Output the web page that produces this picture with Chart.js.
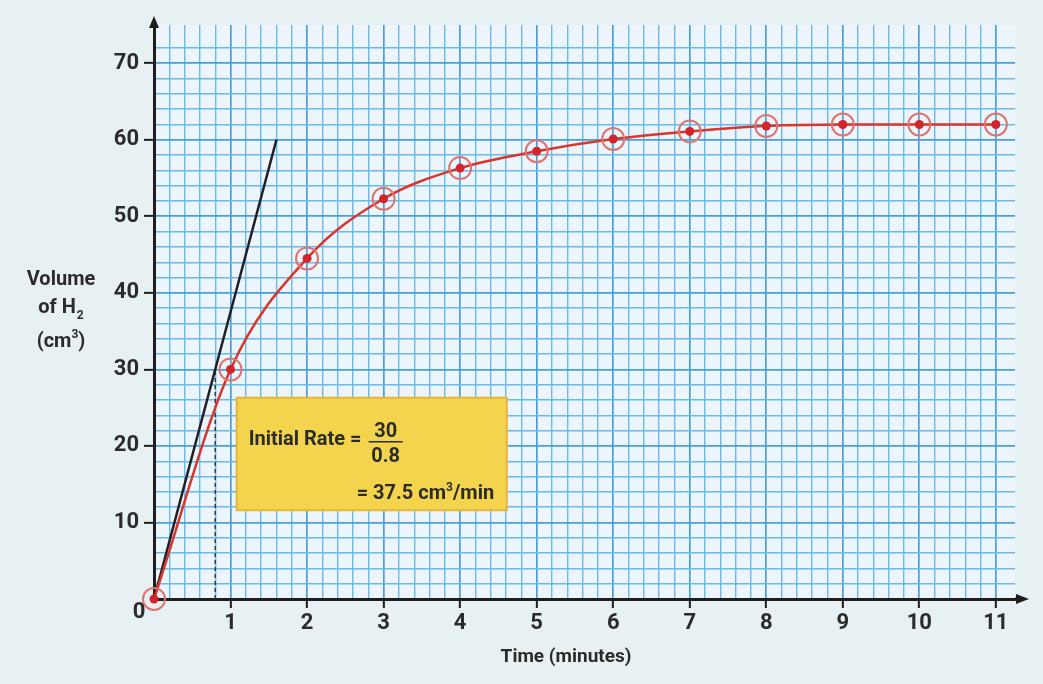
<!DOCTYPE html>
<html><head><meta charset="utf-8">
<script src="https://cdn.jsdelivr.net/npm/chart.js@4"></script>
<style>html,body{margin:0;padding:0;background:#e7f1f3;overflow:hidden}#wrap{width:1043px;height:684px}</style>
</head><body><div id="wrap"><canvas id="c" width="1043" height="684"></canvas></div>
<script>
// ---- data ----
const times = [0, 1, 2, 3, 4, 5, 6, 7, 8, 9, 10, 11];
const volumes = [0, 30, 44.5, 52.3, 56.3, 58.5, 60.1, 61.1, 61.8, 62, 62, 62];
const tangentTimes = [0, 1.6];
const tangentVolumes = [0, 60];
const guideTimes = [0.8, 0.8];
const guideVolumes = [0, 30];
const xTickLabels = ['1','2','3','4','5','6','7','8','9','10','11'];
const yTickLabels = ['10','20','30','40','50','60','70'];
const rateNumerator = '30';
const rateDenominator = '0.8';
const rateResult = '37.5';

const FONT = 'Roboto, "DejaVu Sans Condensed", sans-serif';
const W = 'bold';
const TXT = '#2b2b2b';
const pts = (xs, ys) => xs.map((x, i) => ({x, y: ys[i]}));
const isInt = v => Math.abs(v - Math.round(v)) < 1e-6;

function richWidth(ctx, parts) {
  let w = 0;
  for (const p of parts) { ctx.font = `${W} ${p.size}px ${FONT}`; w += ctx.measureText(p.t).width + (p.gap || 0); }
  return w;
}
function drawRich(ctx, parts, x, y, align) {
  const w = richWidth(ctx, parts);
  let cx = align === 'center' ? x - w / 2 : align === 'right' ? x - w : x;
  ctx.textAlign = 'left'; ctx.textBaseline = 'alphabetic';
  for (const p of parts) {
    ctx.font = `${W} ${p.size}px ${FONT}`;
    ctx.fillText(p.t, cx, y + (p.dy || 0));
    cx += ctx.measureText(p.t).width + (p.gap || 0);
  }
  return cx;
}

const deco = {
  id: 'deco',
  beforeDraw(chart) {
    const {ctx, chartArea: a} = chart;
    ctx.save();
    ctx.fillStyle = '#ebf5fb';
    ctx.fillRect(a.left, a.top, a.right - a.left, a.bottom - a.top);
    ctx.restore();
  },
  beforeDatasetsDraw(chart) {
    const {ctx, scales: {x, y}} = chart;
    ctx.save();
    const l = x.getPixelForValue(1.08), r = x.getPixelForValue(4.61);
    const t = y.getPixelForValue(26.3), b = y.getPixelForValue(11.6);
    ctx.fillStyle = '#f4d44c';
    ctx.strokeStyle = '#e6b53c';
    ctx.lineWidth = 2;
    ctx.fillRect(l, t, r - l, b - t);
    ctx.strokeRect(l, t, r - l, b - t);
    ctx.fillStyle = TXT;
    drawRich(ctx, [{t: 'Initial Rate =', size: 20}], l + 12, t + 47, 'left');
    ctx.font = `${W} 20px ${FONT}`;
    ctx.textAlign = 'center';
    const fx = l + 149;
    ctx.fillText(rateNumerator, fx, t + 39);
    ctx.fillText(rateDenominator, fx, t + 64);
    ctx.strokeStyle = TXT; ctx.lineWidth = 1.5;
    ctx.beginPath(); ctx.moveTo(fx - 17, t + 44); ctx.lineTo(fx + 17, t + 44); ctx.stroke();
    drawRich(ctx, [{t: '= ' + rateResult + ' cm', size: 20}, {t: '3', size: 12, dy: -8}, {t: '/min', size: 20}], l + 120, t + 101, 'left');
    ctx.restore();
  },
  afterDraw(chart) {
    const {ctx, chartArea: a, scales: {x, y}} = chart;
    ctx.save();
    const x0 = x.getPixelForValue(0), y0 = y.getPixelForValue(0);
    ctx.strokeStyle = '#1e1e1e'; ctx.fillStyle = '#1e1e1e'; ctx.lineWidth = 3;
    ctx.beginPath(); ctx.moveTo(x0, a.top); ctx.lineTo(x0, 26); ctx.stroke();
    ctx.beginPath(); ctx.moveTo(x0, 16); ctx.lineTo(x0 - 5, 28); ctx.lineTo(x0 + 5, 28); ctx.closePath(); ctx.fill();
    ctx.beginPath(); ctx.moveTo(a.right, y0); ctx.lineTo(1018, y0); ctx.stroke();
    ctx.beginPath(); ctx.moveTo(1029, y0); ctx.lineTo(1016, y0 - 5); ctx.lineTo(1016, y0 + 5); ctx.closePath(); ctx.fill();
    ctx.fillStyle = TXT;
    drawRich(ctx, [{t: '0', size: 22}], 139, 618, 'center');
    drawRich(ctx, [{t: 'Time (minutes)', size: 19}], 566, 662, 'center');
    drawRich(ctx, [{t: 'Volume', size: 20}], 61, 285, 'center');
    drawRich(ctx, [{t: 'of H', size: 20, gap: 1}, {t: '2', size: 12, dy: 6}], 61, 313, 'center');
    drawRich(ctx, [{t: '(cm', size: 20}, {t: '3', size: 12, dy: -9}, {t: ')', size: 20}], 61, 347, 'center');
    ctx.restore();
  }
};

new Chart(document.getElementById('c'), {
  type: 'scatter',
  data: {
    datasets: [
      {label: 'guide', data: pts(guideTimes, guideVolumes), showLine: true, borderColor: '#3a3a3a', borderWidth: 1.5, borderDash: [4, 3], pointRadius: 0, order: 4},
      {label: 'tangent', data: pts(tangentTimes, tangentVolumes), showLine: true, borderColor: '#1f1f24', borderWidth: 2.5, pointRadius: 0, order: 3},
      {label: 'volume', data: pts(times, volumes), showLine: true, cubicInterpolationMode: 'monotone', borderColor: '#d8352d', borderWidth: 2.5, pointRadius: 4.5, pointBackgroundColor: '#d3232b', pointBorderWidth: 0, clip: false, order: 2},
      {label: 'rings', data: pts(times, volumes), showLine: false, pointRadius: 11, pointBorderColor: '#dd7470', pointBorderWidth: 2, pointBackgroundColor: 'rgba(0,0,0,0)', clip: false, order: 1}
    ]
  },
  options: {
    responsive: false, animation: false, devicePixelRatio: 1,
    layout: {padding: {left: 0, top: 25, right: 28, bottom: 0}},
    plugins: {legend: {display: false}, tooltip: {enabled: false}},
    scales: {
      x: {
        type: 'linear', min: 0, max: 11.25,
        afterFit(s) { s.height = 85; },
        border: {display: true, color: '#1e1e1e', width: 3},
        grid: {
          color: c => { const v = c.tick.value; if (v > 11.2 + 1e-6) return 'rgba(0,0,0,0)'; return isInt(v) ? '#4a9fd8' : '#6bb9e6'; },
          lineWidth: c => isInt(c.tick.value) ? 1.7 : 1.4,
          tickColor: c => { const v = c.tick.value; return (isInt(v) && xTickLabels.includes(String(Math.round(v)))) ? '#1e1e1e' : 'rgba(0,0,0,0)'; },
          tickLength: 9, tickWidth: 2
        },
        ticks: {
          stepSize: 0.2, autoSkip: false, maxRotation: 0, padding: 2, color: TXT,
          font: {family: FONT, size: 22, weight: W},
          callback: v => { const r = Math.round(v); return (isInt(v) && xTickLabels.includes(String(r))) ? String(r) : ''; }
        }
      },
      y: {
        type: 'linear', min: 0, max: 75,
        afterFit(s) { s.width = 154; },
        border: {display: true, color: '#1e1e1e', width: 3},
        grid: {
          color: c => { const v = c.tick.value; if (v > 74 + 1e-6) return 'rgba(0,0,0,0)'; return (Math.round(v) % 10 === 0) ? '#4a9fd8' : '#6bb9e6'; },
          lineWidth: c => (Math.round(c.tick.value) % 10 === 0) ? 1.7 : 1.4,
          tickColor: c => yTickLabels.includes(String(Math.round(c.tick.value))) && isInt(c.tick.value) ? '#1e1e1e' : 'rgba(0,0,0,0)',
          tickLength: 10, tickWidth: 2
        },
        ticks: {
          stepSize: 2, autoSkip: false, padding: 5, color: TXT,
          font: {family: FONT, size: 22, weight: W},
          callback: v => { const r = Math.round(v); return (isInt(v) && yTickLabels.includes(String(r))) ? String(r) : ''; }
        }
      }
    }
  },
  plugins: [deco]
});
</script>
</body></html>
